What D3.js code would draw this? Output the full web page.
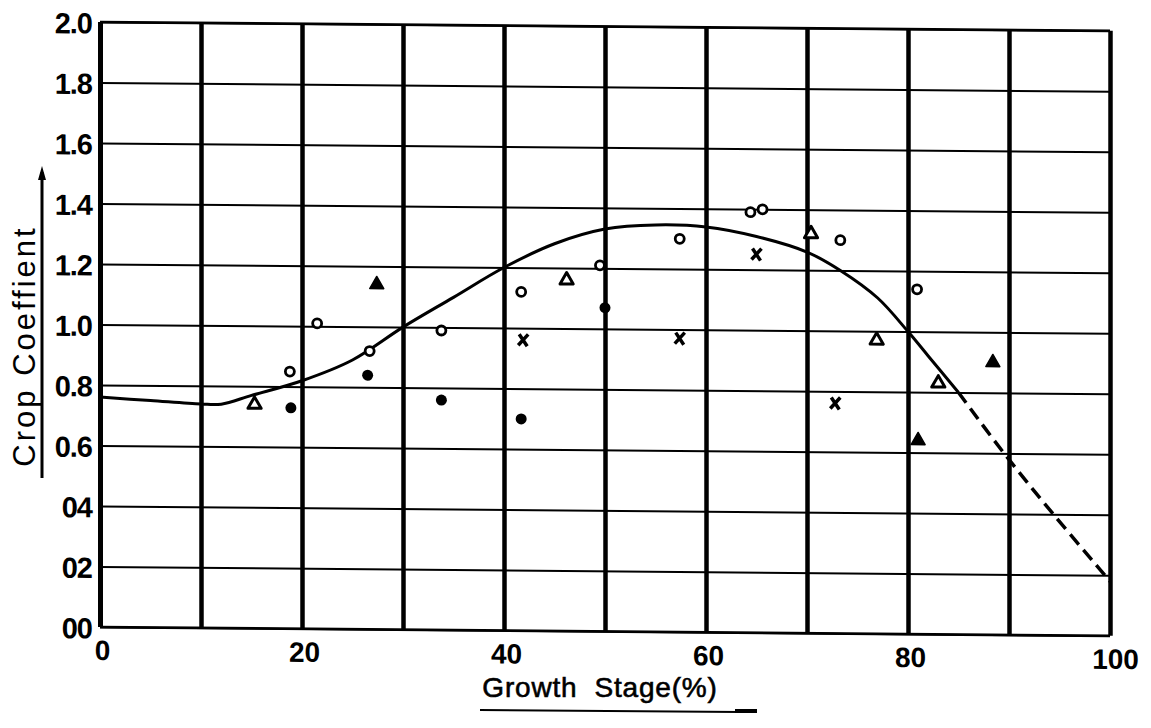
<!DOCTYPE html>
<html>
<head>
<meta charset="utf-8">
<script src="https://cdn.jsdelivr.net/npm/d3@7"></script>
<style>
  body { margin: 0; background: #fff; }
  svg text { fill: #000; }
</style>
</head>
<body>
<div id="chart"></div>
<script>
// ticks
var xGridValues = [0, 10, 20, 30, 40, 50, 60, 70, 80, 90, 100];
var xTickValues = [0, 20, 40, 60, 80, 100];
var yTickValues = [0, 0.2, 0.4, 0.6, 0.8, 1.0, 1.2, 1.4, 1.6, 1.8, 2.0];
var yTickLabels = ["00", "02", "04", "0.6", "0.8", "1.0", "1.2", "1.4", "1.6", "1.8", "2.0"];

// fitted curve (solid part) and its extrapolated (dashed) end
var curveX = [0, 5, 10, 12, 15, 20, 25, 30, 35, 40, 45, 50, 55, 60, 65, 70, 73.3, 77, 80, 82, 85];
var curveY = [0.76, 0.75, 0.74, 0.74, 0.77, 0.82, 0.89, 1.00, 1.10, 1.20, 1.28, 1.33, 1.345, 1.34, 1.31, 1.26, 1.20, 1.11, 1.00, 0.92, 0.80];
var dashX = [85, 89.4, 94.4, 100];
var dashY = [0.80, 0.605, 0.40, 0.18];

// observed points, one list pair per marker
var openCircleX = [18.8, 21.5, 26.7, 33.8, 41.7, 49.5, 57.4, 64.4, 65.6, 73.3, 80.9];
var openCircleY = [0.85, 1.01, 0.92, 0.99, 1.12, 1.21, 1.30, 1.39, 1.40, 1.30, 1.14];
var filledCircleX = [18.9, 26.5, 33.8, 41.7, 50.0];
var filledCircleY = [0.73, 0.84, 0.76, 0.70, 1.07];
var openTriangleX = [15.3, 46.2, 70.4, 76.9, 83.0];
var openTriangleY = [0.74, 1.16, 1.32, 0.97, 0.83];
var filledTriangleX = [27.4, 81.0, 88.4];
var filledTriangleY = [1.14, 0.64, 0.90];
var crossX = [41.9, 57.4, 65.0, 72.8];
var crossY = [0.96, 0.97, 1.25, 0.76];

var W = 1151, H = 728,
    padL = 100, padT = 22,
    w = 1010, h = 605;

var svg = d3.select('#chart').append("svg")
  .attr("width", W)
  .attr("height", H);

// the scan is slightly sheared, so the whole frame leans a little
var g = svg.append("g")
  .attr("transform", `translate(${padL},${padT}) skewY(0.5)`);

var x = d3.scaleLinear().domain([0, 100]).range([0, w]);
var y = d3.scaleLinear().domain([0, 2]).range([h, 0]);

// horizontal grid
g.append("g")
  .call(d3.axisLeft(y).tickValues(yTickValues).tickSize(-w).tickFormat(""))
  .call(a => a.select(".domain").remove())
  .selectAll("line").attr("stroke", "#000").attr("stroke-width", 2);

// vertical grid (heavy)
g.append("g")
  .attr("transform", `translate(0,${h})`)
  .call(d3.axisBottom(x).tickValues(xGridValues).tickSize(h).tickFormat(""))
  .call(a => a.select(".domain").remove())
  .selectAll("line")
  .attr("y2", -h)
  .attr("stroke", "#000")
  .attr("stroke-width", d => (d === 0 ? 5 : 4.5));

// frame top / bottom
g.append("line").attr("x1", 0).attr("x2", w).attr("y1", 0).attr("y2", 0)
  .attr("stroke", "#000").attr("stroke-width", 2.5);
g.append("line").attr("x1", 0).attr("x2", w).attr("y1", h).attr("y2", h)
  .attr("stroke", "#000").attr("stroke-width", 2.5);

// y tick labels
g.append("g")
  .call(d3.axisLeft(y).tickValues(yTickValues).tickSize(0).tickPadding(8)
    .tickFormat((d, i) => yTickLabels[i]))
  .call(a => a.select(".domain").remove())
  .selectAll("text")
  .attr("dy", "0.38em")
  .style("font-family", "'Liberation Sans', Arial, sans-serif")
  .style("font-weight", "bold")
  .style("font-size", "29px")
  .style("letter-spacing", "-1px");

// x tick labels
g.append("g")
  .attr("transform", `translate(0,${h})`)
  .call(d3.axisBottom(x).tickValues(xTickValues).tickSize(0).tickPadding(12)
    .tickFormat(d3.format("d")))
  .call(a => a.select(".domain").remove())
  .selectAll("text")
  .attr("dy", "0.75em")
  .attr("dx", d => (d === 100 ? 5 : 2))
  .style("font-family", "'Liberation Sans', Arial, sans-serif")
  .style("font-weight", "bold")
  .style("font-size", "28px");

// curve
var line = d3.line()
  .x(d => x(d[0]))
  .y(d => y(d[1]))
  .curve(d3.curveCatmullRom);

g.append("path")
  .datum(d3.zip(curveX, curveY))
  .attr("fill", "none")
  .attr("stroke", "#000")
  .attr("stroke-width", 3)
  .attr("d", line);

g.append("path")
  .datum(d3.zip(dashX, dashY))
  .attr("fill", "none")
  .attr("stroke", "#000")
  .attr("stroke-width", 3.5)
  .attr("stroke-dasharray", "13,7")
  .attr("d", line);

// markers
g.selectAll("circle.open")
  .data(d3.zip(openCircleX, openCircleY))
  .enter().append("circle")
  .attr("class", "open")
  .attr("cx", d => x(d[0]))
  .attr("cy", d => y(d[1]))
  .attr("r", 4.5)
  .attr("fill", "#fff")
  .attr("stroke", "#000")
  .attr("stroke-width", 2.8);

g.selectAll("circle.filled")
  .data(d3.zip(filledCircleX, filledCircleY))
  .enter().append("circle")
  .attr("class", "filled")
  .attr("cx", d => x(d[0]))
  .attr("cy", d => y(d[1]))
  .attr("r", 5.5)
  .attr("fill", "#000");

var tri = d3.symbol().type(d3.symbolTriangle);

g.selectAll("path.otri")
  .data(d3.zip(openTriangleX, openTriangleY))
  .enter().append("path")
  .attr("class", "otri")
  .attr("transform", d => `translate(${x(d[0])},${y(d[1])})`)
  .attr("d", tri.size(75)())
  .attr("fill", "#fff")
  .attr("stroke", "#000")
  .attr("stroke-width", 3)
  .attr("stroke-linejoin", "round");

g.selectAll("path.ftri")
  .data(d3.zip(filledTriangleX, filledTriangleY))
  .enter().append("path")
  .attr("class", "ftri")
  .attr("transform", d => `translate(${x(d[0])},${y(d[1])})`)
  .attr("d", tri.size(85)())
  .attr("fill", "#000")
  .attr("stroke", "#000")
  .attr("stroke-width", 1.5)
  .attr("stroke-linejoin", "round");

g.selectAll("path.cross")
  .data(d3.zip(crossX, crossY))
  .enter().append("path")
  .attr("class", "cross")
  .attr("transform", d => `translate(${x(d[0])},${y(d[1])})`)
  .attr("d", "M-4,-6L4,6M5,-6L-5,5")
  .attr("fill", "none")
  .attr("stroke", "#000")
  .attr("stroke-width", 3.5);

// axis titles
svg.append("text")
  .attr("x", 600)
  .attr("y", 697)
  .attr("text-anchor", "middle")
  .style("font-family", "'Liberation Sans', Arial, sans-serif")
  .style("font-size", "28px")
  .style("letter-spacing", "0.8px")
  .style("white-space", "pre")
  .attr("stroke", "#000")
  .attr("stroke-width", 0.6)
  .text("Growth  Stage(%)");
svg.append("line")
  .attr("x1", 480).attr("x2", 740).attr("y1", 710).attr("y2", 712)
  .attr("stroke", "#000").attr("stroke-width", 2);
svg.append("line")
  .attr("x1", 735).attr("x2", 757).attr("y1", 711).attr("y2", 711)
  .attr("stroke", "#000").attr("stroke-width", 4);

svg.append("text")
  .attr("transform", "translate(35,346) rotate(-90)")
  .attr("text-anchor", "middle")
  .style("font-family", "'Liberation Sans', Arial, sans-serif")
  .style("font-size", "31px")
  .style("letter-spacing", "3px")
  .text("Crop Coeffient");

svg.append("line")
  .attr("x1", 42).attr("x2", 42).attr("y1", 478).attr("y2", 172)
  .attr("stroke", "#000").attr("stroke-width", 3);
svg.append("path")
  .attr("d", "M42,166L38,180L46,180Z")
  .attr("fill", "#000");
</script>
</body>
</html>
